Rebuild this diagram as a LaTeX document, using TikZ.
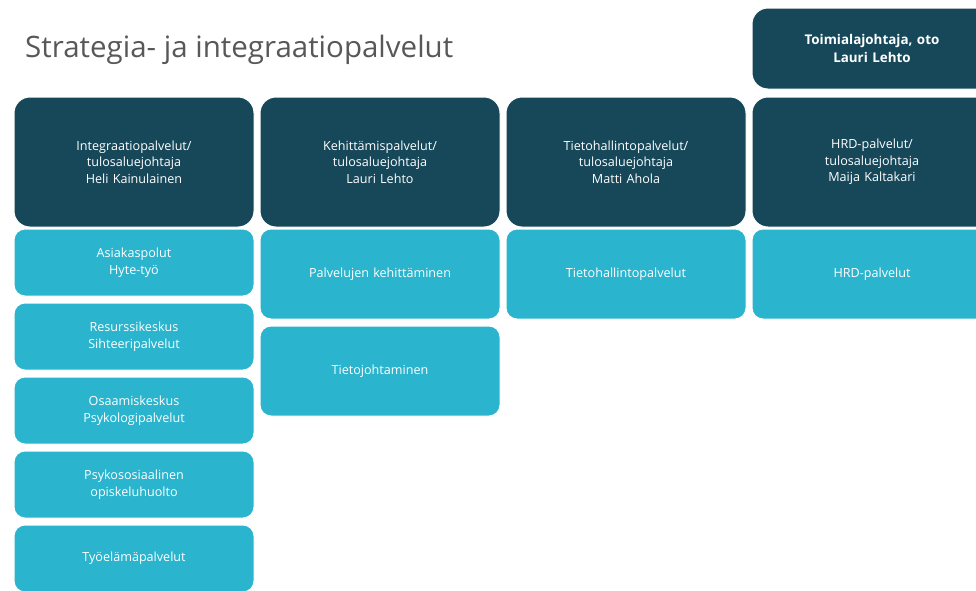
\documentclass[tikz,border=0pt]{standalone}
\usepackage{fontspec}
\setmainfont{Open Sans}
\usetikzlibrary{positioning}
\definecolor{headteal}{RGB}{22,72,90}
\definecolor{unitcyan}{RGB}{42,180,206}
\definecolor{titlegray}{RGB}{88,88,88}

\begin{document}
\begin{tikzpicture}[x=1pt, y=-1pt, node distance=7pt,
	head/.style={rectangle, rounded corners=16pt, fill=headteal, draw=white, line width=1pt, outer sep=0pt,
		minimum width=240pt, minimum height=130pt, text width=225pt, align=center, text=white,
		font=\fontsize{12.6}{16.5}\selectfont},
	unit/.style={rectangle, rounded corners=11pt, fill=unitcyan, draw=white, line width=1pt, outer sep=0pt,
		minimum width=240pt, minimum height=67pt, text width=225pt, align=center, text=white,
		font=\fontsize{12.6}{16.5}\selectfont},
	tall/.style={unit, minimum height=90pt}]
	\useasboundingbox (0,0) rectangle (976,590);
	% title
	\node[anchor=base west, inner sep=0pt, text=titlegray, font=\fontsize{29.5}{34}\selectfont] (title) at (25,57) {Strategia- ja integraatiopalvelut};
	% chief
	\node[head, anchor=north west, minimum height=81pt, font=\bfseries\fontsize{13.4}{17.5}\selectfont] (chief) at (752,8) {Toimialajohtaja, oto\\Lauri Lehto};
	% result areas
	\node[head, anchor=north west] (integ) at (14,97) {Integraatiopalvelut/\\tulosaluejohtaja\\Heli Kainulainen};
	\node[head, anchor=north west] (kehit) at (260,97) {Kehittämispalvelut/\\tulosaluejohtaja\\Lauri Lehto};
	\node[head, anchor=north west] (tieto) at (506,97) {Tietohallintopalvelut/\\tulosaluejohtaja\\Matti Ahola};
	\node[head, anchor=north west] (hrd) at (752,97) {HRD-palvelut/\\tulosaluejohtaja\\Maija Kaltakari};
	% integration units
	\node[unit, below=2pt of integ] (asiakas) {Asiakaspolut\\Hyte-työ};
	\node[unit, below=of asiakas] (resurssi) {Resurssikeskus\\Sihteeripalvelut};
	\node[unit, below=of resurssi] (osaamis) {Osaamiskeskus\\Psykologipalvelut};
	\node[unit, below=of osaamis] (psyko) {Psykososiaalinen\\opiskeluhuolto};
	\node[unit, below=of psyko] (tyoelama) {Työelämäpalvelut};
	% development units
	\node[tall, below=2pt of kehit] (palvkeh) {Palvelujen kehittäminen};
	\node[tall, below=of palvkeh] (tietojoht) {Tietojohtaminen};
	% ICT and HRD units
	\node[tall, below=2pt of tieto] (tietohall) {Tietohallintopalvelut};
	\node[tall, below=2pt of hrd] (hrdunit) {HRD-palvelut};
\end{tikzpicture}
\end{document}
